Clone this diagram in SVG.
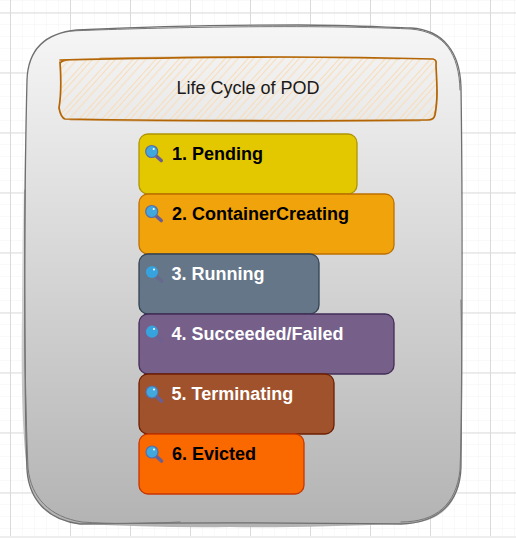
<svg xmlns="http://www.w3.org/2000/svg" width="516" height="538" viewBox="0 0 516 538">
<defs>
<linearGradient id="bg" x1="0" y1="0" x2="0" y2="1"><stop offset="0" stop-color="#f6f6f6"/><stop offset="1" stop-color="#b3b3b3"/></linearGradient>
<pattern id="minor" width="12" height="12" patternUnits="userSpaceOnUse" x="10" y="12"><path d="M0 0V12M0 0H12" fill="none" stroke="#f4f4f4" stroke-width="1"/></pattern>
<pattern id="major" width="60" height="60" patternUnits="userSpaceOnUse" x="10" y="12.500"><path d="M.5 0V60M0 .5H60" fill="none" stroke="#dadada" stroke-width="1"/></pattern>
<pattern id="hach" width="17" height="17" patternUnits="userSpaceOnUse" patternTransform="rotate(-48)"><path d="M0 2.500H17M0 6.500H17M0 12H17" stroke="#f9dcb6" stroke-width="1" fill="none"/></pattern>
<g id="glass"><path d="M4.500 4.500L9.500 9" stroke="#6a5f94" stroke-width="3.600" stroke-linecap="round"/><circle cx="0" cy="0" r="6" fill="#41a8dd" stroke="#5a6ea5" stroke-width="1.200"/><circle cx="2" cy="-2.600" r="1" fill="#fff"/></g>
<g id="glassDim"><path d="M4.500 4.500L9.500 9" stroke="#6a5f94" stroke-width="3.600" stroke-linecap="round" opacity=".55"/><circle cx="0" cy="0" r="6.100" fill="#36a3de"/><circle cx="2" cy="-2.600" r="1" fill="#fff"/></g>
</defs>
<style>
.t{font-family:"Liberation Sans",Arial,sans-serif;font-size:18px}
.b{font-weight:700}
.s{fill:none;stroke-linejoin:round;stroke-linecap:round}
.n{stroke-width:1.300}
</style>
<rect width="516" height="538" fill="#fff"/>
<rect width="516" height="536" fill="url(#minor)"/>
<rect width="516" height="536" fill="url(#major)"/>
<rect y="536" width="516" height="2" fill="#eeeeee"/>
<g id="container">
<path d="M77 30C140 27 240 25 300 25C340 25 380 27 411 28C445 31 461 55 461 87V467C460 505 440 524 401 524C340 526 280 528 230 527C180 528 130 526 80 524C45 520 29 500 27 470C22 430 21 370 22 310C22 250 24 180 27 80C28 50 45 33 77 30Z" fill="url(#bg)"/>
<path class="s" d="M77 30C140 27 240 25 300 25C340 25 380 27 411 28C443 30 460 52 461 87C463 220 462 350 461 467C460 503 438 523 401 524C320 523 200 522 80 524C48 520 29 500 27 470C24 380 24 200 27 80C28 50 45 33 77 30Z" stroke="#6f6f6f" stroke-width="1.300"/>
<path class="s" d="M70 31C140 28 300 24 411 29C445 32 459 54 460 90M461 300C462 360 462 420 460 470C456 505 436 522 401 522M180 522C140 524 110 524 82 522C50 517 31 498 28 468C25 400 24 300 25 190" stroke="#777" stroke-width="1"/>
</g>
<g id="title">
<path d="M60 60C180 56 330 56 433 59L436 62C437 80 438 100 435 116L431 120C320 122 180 121 65 119L60 112C62 95 61 78 60 60Z" fill="url(#hach)"/>
<path class="s" d="M60 60C180 57 330 56 433 59C437 60 436 62 436 66C437 84 438 100 435 115C434 119 431 120 428 120C320 121 180 121 65 119C62 118 60 113 59 108C62 90 61 76 60 62M60 63C62 61 65 60 69 60" stroke="#b46504" stroke-width="1.700"/>
<path class="s" d="M100 58C220 56 300 57 400 59M437 90C437 100 436 108 434 116M70 120C180 122 300 122 420 121" stroke="#b46504" stroke-width=".8" opacity=".6"/>
<text class="t" x="248" y="94" text-anchor="middle" fill="#1a1a1a">Life Cycle of POD</text>
</g>
<g id="node1"><rect class="n" x="139" y="134" width="218" height="60" rx="9" fill="#e3c800" stroke="#b09500"/><use href="#glass" x="151.700" y="151.500"/><text class="t b" x="172" y="160" fill="#000">1. Pending</text></g>
<g id="node2"><rect class="n" x="139" y="194" width="255" height="60" rx="9" fill="#f0a30a" stroke="#bd7000"/><use href="#glass" x="151.700" y="211.500"/><text class="t b" x="172" y="220" fill="#000">2. ContainerCreating</text></g>
<g id="node3"><rect class="n" x="139" y="254" width="180" height="60" rx="9" fill="#647687" stroke="#314354"/><use href="#glassDim" x="152" y="272"/><text class="t b" x="171.500" y="280" fill="#fff">3. Running</text></g>
<g id="node4"><rect class="n" x="139" y="314" width="255" height="60" rx="9" fill="#76608a" stroke="#432d57"/><use href="#glassDim" x="152" y="331.700"/><text class="t b" x="171.500" y="340" fill="#fff">4. Succeeded/Failed</text></g>
<g id="node5"><rect class="n" x="139" y="374" width="195" height="60" rx="9" fill="#a0522d" stroke="#6d1f00"/><use href="#glass" x="152" y="392"/><text class="t b" x="171.500" y="400" fill="#fff">5. Terminating</text></g>
<g id="node6"><rect class="n" x="139" y="434" width="165" height="60" rx="9" fill="#fa6800" stroke="#c73500"/><use href="#glass" x="152" y="452"/><text class="t b" x="172" y="460" fill="#000">6. Evicted</text></g>
<g id="connectors"/>
</svg>
